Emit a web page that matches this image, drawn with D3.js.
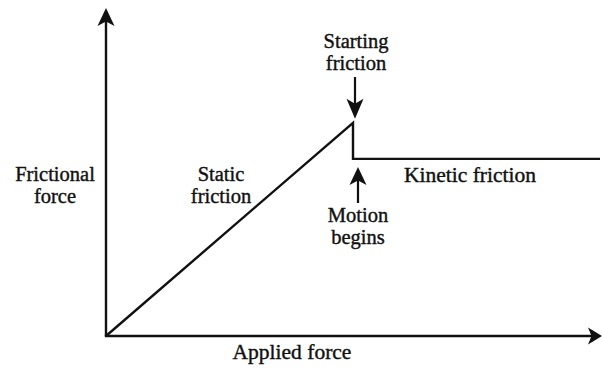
<!DOCTYPE html>
<html>
<head>
<meta charset="utf-8">
<script src="https://cdn.jsdelivr.net/npm/d3@7"></script>
<style>
  html, body { margin: 0; padding: 0; background: #fff; }
  svg { display: block; }
  text { font-family: "Liberation Serif", "Times New Roman", serif; font-size: 20.5px; fill: #111; stroke: #111; stroke-width: 0.4px; }
  text.big { font-size: 21.5px; }
</style>
</head>
<body>
<svg id="chart" width="602" height="369"></svg>
<script>
// ---- data ----
const staticX = [0, 50];          // applied force, static region
const staticY = [0, 65];          // frictional force rises linearly
const peakX = 50;                 // starting friction / motion begins
const kineticX = [50, 100];
const kineticY = [54, 54];        // constant kinetic friction
const xLabel = "Applied force";
const yLabelLines = ["Frictional", "force"];
const staticLabel = ["Static", "friction"];
const startLabel = ["Starting", "friction"];
const motionLabel = ["Motion", "begins"];
const kineticLabel = "Kinetic friction";

// ---- layout ----
const W = 602, H = 369;
const x = d3.scaleLinear().domain([0, 100]).range([106, 600]);
const y = d3.scaleLinear().domain([0, 100]).range([336, 8]);
const svg = d3.select("#chart");
const ink = "#111";

function arrowHead(g, tx, ty, dir, len, half) {
  let p;
  const notch = len * 0.25;
  if (dir === "up") p = [[tx, ty], [tx + half, ty + len], [tx, ty + len - notch], [tx - half, ty + len]];
  if (dir === "down") p = [[tx, ty], [tx + half, ty - len], [tx, ty - len + notch], [tx - half, ty - len]];
  if (dir === "right") p = [[tx, ty], [tx - len, ty + half], [tx - len + notch, ty], [tx - len, ty - half]];
  g.append("path").attr("d", "M" + p.map(q => q.join(",")).join("L") + "Z").attr("fill", ink);
}

// axes
const ax = svg.append("g");
ax.append("line").attr("x1", x(0)).attr("y1", y(0)).attr("x2", x(0)).attr("y2", y(100) + 12)
  .attr("stroke", ink).attr("stroke-width", 2.4);
arrowHead(ax, x(0), y(100), "up", 18, 8.5);
ax.append("line").attr("x1", x(0) - 1.2).attr("y1", y(0)).attr("x2", W - 10).attr("y2", y(0))
  .attr("stroke", ink).attr("stroke-width", 2.4);
arrowHead(ax, W, y(0), "right", 14, 8.5);

// curve
const line = d3.line().x(d => x(d[0])).y(d => y(d[1]));
const pts = [[staticX[0], staticY[0]], [staticX[1], staticY[1]], [kineticX[0], kineticY[0]], [kineticX[1], kineticY[1]]];
svg.append("path").attr("d", line(pts)).attr("fill", "none").attr("stroke", ink)
  .attr("stroke-width", 2.4).attr("stroke-linejoin", "miter");

// labels
function multi(lines, cx, baseline, lh) {
  lines.forEach((s, i) => svg.append("text").attr("text-anchor", "middle")
    .attr("x", cx).attr("y", baseline + i * lh).text(s));
}
multi(yLabelLines, 55, 181, 22);
multi(staticLabel, 221, 181, 22);
multi(startLabel, 356, 48, 22);
multi(motionLabel, 358, 222, 22);
svg.append("text").attr("class", "big").attr("x", 470).attr("y", 182).attr("text-anchor", "middle").text(kineticLabel);
svg.append("text").attr("class", "big").attr("x", 292).attr("y", 359).attr("text-anchor", "middle").text(xLabel);

// annotation arrows
const px = x(peakX);
const ag = svg.append("g");
ag.append("line").attr("x1", px + 2).attr("y1", 77).attr("x2", px + 2).attr("y2", y(staticY[1]) - 14)
  .attr("stroke", ink).attr("stroke-width", 2.2);
arrowHead(ag, px + 2, y(staticY[1]) - 4, "down", 20, 8.5);
ag.append("line").attr("x1", px + 5).attr("y1", y(kineticY[0]) + 20).attr("x2", px + 5).attr("y2", 203)
  .attr("stroke", ink).attr("stroke-width", 2.2);
arrowHead(ag, px + 5, y(kineticY[0]) + 8, "up", 18, 8.5);
</script>
</body>
</html>
